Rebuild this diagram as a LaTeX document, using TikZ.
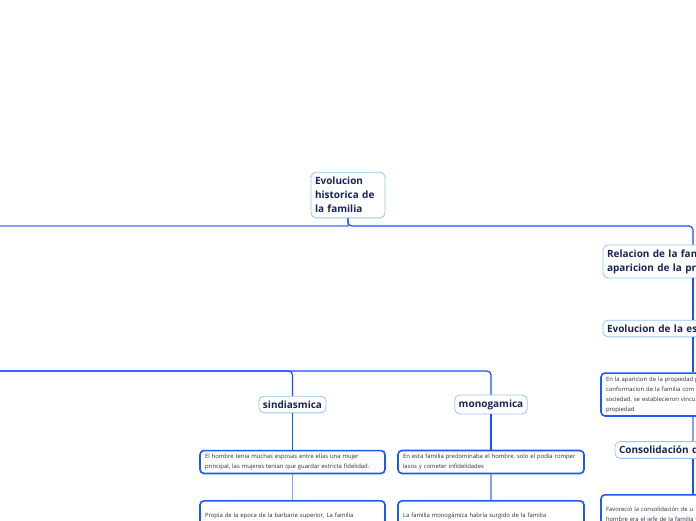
\documentclass[tikz,border=0pt]{standalone}
\usepackage{fontspec}
\setmainfont{Open Sans}
\definecolor{navy}{RGB}{22,36,88}
\definecolor{notegray}{RGB}{45,45,60}
\definecolor{boxlight}{RGB}{150,198,238}
\definecolor{boxblue}{RGB}{28,88,250}
\definecolor{lineblue}{RGB}{24,80,250}
\definecolor{linesoft}{RGB}{130,160,245}
\tikzset{
  topic/.style={draw=boxlight, line width=0.8pt, rounded corners=5pt, fill=white, text=navy,
    font=\fontsize{10}{14}\selectfont\bfseries, align=left, inner xsep=4pt, inner ysep=4.5pt},
  note/.style={draw=boxblue, line width=1.6pt, rounded corners=4pt, fill=white, text=notegray,
    font=\fontsize{5.9}{10}\selectfont, align=left, inner xsep=5pt, inner ysep=3.5pt},
  link/.style={draw=lineblue, line width=1.2pt, rounded corners=4pt},
  softlink/.style={draw=linesoft, line width=1.4pt},
}
\begin{document}
\begin{tikzpicture}[x=1pt,y=-1pt]
\useasboundingbox (0,0) rectangle (696,520);

\coordinate (westA) at (-20,226);
\coordinate (eastA) at (693,226);
\coordinate (westB) at (-20,371);

\node[topic, text width=66pt, inner ysep=5pt] (root) at (348,195) {Evolucion\\historica de\\la familia};
\node[topic, text width=172pt] (relacion) at (693,261.5) {Relacion de la fam\\aparicion de la pro};
\node[topic, text width=172pt] (evol) at (693,328.5) {Evolucion de la est};
\node[note, text width=174pt] (r1) at (693,394.5) {En la aparicion de la propiedad p\\conformacion de la familia com\\sociedad, se establecieron vincu\\propiedad};
\node[topic, text width=148pt] (consol) at (693,450) {Consolidación d};
\node[note, text width=174pt, anchor=north, minimum height=40pt] (r2) at (693,494) {Favoreció la consolidación de u\\hombre era el jefe de la familia y};

\node[topic] (sind) at (292.5,404.5) {sindiasmica};
\node[note, text width=175pt] (s1) at (292.5,462) {El hombre tenia muchas esposas entre ellas  una mujer\\principal, las mujeres tenian que guardar estricta fidelidad.};
\node[note, text width=175pt, anchor=north, minimum height=40pt] (s2) at (292.5,500) {Propia de la epoca de la barbarie superior, La familia\\sindiásmica aparece en la frontera entre el salvajismo y la};

\node[topic] (mono) at (491,404.5) {monogamica};
\node[note, text width=176pt] (m1) at (491,462) {En esta familia predominaba el hombre, solo el podia romper\\lasos y cometer infidelidades};
\node[note, text width=176pt, anchor=north, minimum height=40pt] (m2) at (491,500) {La familia monogámica habría surgido de la familia\\sindiásmica, durante la etapa de transición entre el estadio};

\draw[softlink] (root.south) |- (westA);
\draw[link] (root.south) |- (eastA) -- (relacion.north);
\draw[link] (relacion.south) -- (evol.north);
\draw[link] (evol.south) -- (r1.north);
\draw[softlink] (r1.south) -- (consol.north);
\draw[link] (consol.south) -- (r2.north);

\draw[link] (westB) -| (sind.north);
\draw[link] (westB) -| (mono.north);
\draw[link] (sind.south) -- (s1.north);
\draw[softlink] (s1.south) -- (s2.north);
\draw[link] (mono.south) -- (m1.north);
\draw[softlink] (m1.south) -- (m2.north);
\end{tikzpicture}
\end{document}
